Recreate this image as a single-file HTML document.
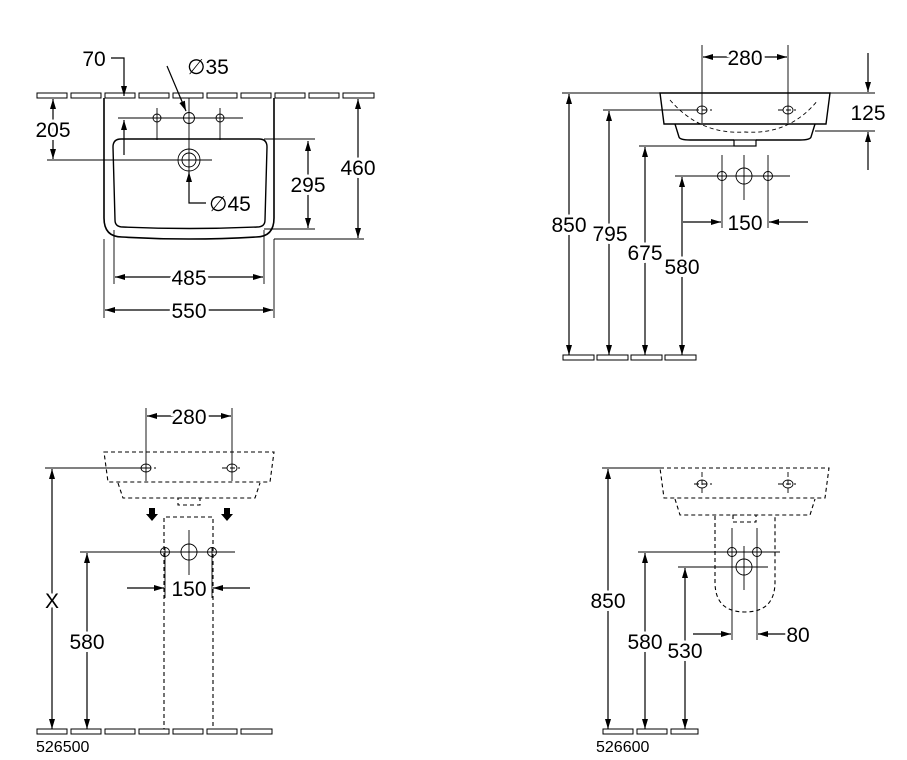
<!DOCTYPE html>
<html><head><meta charset="utf-8"><style>
html,body{margin:0;padding:0;background:#fff}
svg{display:block}
text{font-family:"Liberation Sans",sans-serif;font-size:21px;fill:#000;paint-order:stroke;stroke:#fff;stroke-width:6px;stroke-linejoin:round}
.s{font-size:16px;stroke-width:0}
</style></head><body>
<svg width="907" height="760" viewBox="0 0 907 760" xmlns="http://www.w3.org/2000/svg">
<defs>
<marker id="a" viewBox="0 0 10 6" refX="10" refY="3" markerWidth="10" markerHeight="6" markerUnits="userSpaceOnUse" orient="auto"><path d="M0,0 L10,3 L0,6 Z" fill="#000"/></marker>
</defs>
<g fill="none" stroke="#000" stroke-width="1.2">
<g fill="#fff" stroke-width="1">
<rect x="37" y="93" width="30" height="5"/><rect x="71" y="93" width="30" height="5"/><rect x="105" y="93" width="30" height="5"/><rect x="139" y="93" width="30" height="5"/><rect x="173" y="93" width="30" height="5"/><rect x="207" y="93" width="30" height="5"/><rect x="241" y="93" width="30" height="5"/><rect x="275" y="93" width="30" height="5"/><rect x="309" y="93" width="30" height="5"/><rect x="343" y="93" width="31" height="5"/>
</g>
<path d="M104,98 L104,218 Q104,237 122,237 Q189,241 256,237 Q274,237 274,218 L274,98" stroke-width="1.6"/>
<path d="M121,139 L259,139 Q267,139 267,147 L265,220 Q265,227 257,227 Q189,230 123,227 Q115,227 115,220 L113,147 Q113,139 121,139 Z" stroke-width="1.4"/>
<g stroke-width="0.9">
<line x1="118" y1="118" x2="243" y2="118"/>
<line x1="157" y1="108" x2="157" y2="140"/><line x1="220" y1="108" x2="220" y2="140"/>
<circle cx="157" cy="118" r="4"/><circle cx="220" cy="118" r="4"/>
<circle cx="189" cy="118" r="5.5"/>
<line x1="189" y1="98" x2="189" y2="172"/>
<circle cx="189" cy="160" r="11"/><circle cx="189" cy="160" r="7"/>
<line x1="47" y1="160" x2="212" y2="160"/>
<line x1="264" y1="139" x2="315" y2="139"/><line x1="264" y1="229" x2="315" y2="229"/>
<line x1="274" y1="239" x2="364" y2="239"/>
<line x1="114" y1="230" x2="114" y2="284"/><line x1="264" y1="230" x2="264" y2="284"/>
<line x1="104" y1="239" x2="104" y2="318"/><line x1="274" y1="239" x2="274" y2="318"/>
</g>
<path d="M111,58 L124,58 L124,96" marker-end="url(#a)"/>
<path d="M124,155 L124,120" marker-end="url(#a)"/>
<line x1="53" y1="128" x2="53" y2="99" marker-end="url(#a)"/><line x1="53" y1="128" x2="53" y2="159" marker-end="url(#a)"/>
<path d="M167,66 L186,111" marker-end="url(#a)"/>
<path d="M206,203 L189,203 L189,172" marker-end="url(#a)"/>
<line x1="308" y1="184" x2="308" y2="141" marker-end="url(#a)"/><line x1="308" y1="184" x2="308" y2="228" marker-end="url(#a)"/>
<line x1="358" y1="168" x2="358" y2="99" marker-end="url(#a)"/><line x1="358" y1="168" x2="358" y2="238" marker-end="url(#a)"/>
<line x1="189" y1="277" x2="115" y2="277" marker-end="url(#a)"/><line x1="189" y1="277" x2="263" y2="277" marker-end="url(#a)"/>
<line x1="189" y1="310" x2="105" y2="310" marker-end="url(#a)"/><line x1="189" y1="310" x2="273" y2="310" marker-end="url(#a)"/>

<line x1="562" y1="93" x2="875" y2="93" stroke-width="0.9"/>
<path d="M660,93 L830,93 L826,124 L664,124 Z" stroke-width="1.4"/>
<path d="M675,124 L679,137 Q680,140 690,140 L734,140 M756,140 L800,140 Q810,140 811,137 L815,124" stroke-width="1.4"/>
<rect x="734" y="140" width="22" height="6" stroke-width="1.2"/>
<path d="M670,100 Q700,135 745,132 Q790,135 818,100" stroke-dasharray="4,3" stroke-width="0.9"/>
<g stroke-width="0.9">
<ellipse cx="702" cy="110" rx="5" ry="4"/><ellipse cx="788" cy="110" rx="5" ry="4"/>
<line x1="694" y1="110" x2="712" y2="110" stroke-dasharray="5,3"/><line x1="778" y1="110" x2="796" y2="110" stroke-dasharray="5,3"/>
<line x1="702" y1="45" x2="702" y2="123"/><line x1="788" y1="45" x2="788" y2="123"/>
<line x1="603" y1="110" x2="695" y2="110"/>
<line x1="639" y1="146" x2="735" y2="146"/>
<line x1="675" y1="176" x2="790" y2="176"/>
<line x1="815" y1="131" x2="875" y2="131"/>
<circle cx="722" cy="176" r="4.5"/><circle cx="768" cy="176" r="4.5"/><circle cx="744" cy="176" r="8"/>
<line x1="722" y1="155" x2="722" y2="228"/><line x1="768" y1="155" x2="768" y2="228"/><line x1="744" y1="155" x2="744" y2="200"/>
</g>
<line x1="745" y1="57" x2="703" y2="57" marker-end="url(#a)"/><line x1="745" y1="57" x2="787" y2="57" marker-end="url(#a)"/>
<line x1="868" y1="53" x2="868" y2="92" marker-end="url(#a)"/><line x1="868" y1="170" x2="868" y2="132" marker-end="url(#a)"/>
<line x1="683" y1="222" x2="721" y2="222" marker-end="url(#a)"/><line x1="808" y1="222" x2="769" y2="222" marker-end="url(#a)"/>
<line x1="569" y1="224" x2="569" y2="94" marker-end="url(#a)"/><line x1="569" y1="224" x2="569" y2="355" marker-end="url(#a)"/>
<line x1="609" y1="233" x2="609" y2="111" marker-end="url(#a)"/><line x1="609" y1="233" x2="609" y2="355" marker-end="url(#a)"/>
<line x1="645" y1="252" x2="645" y2="147" marker-end="url(#a)"/><line x1="645" y1="252" x2="645" y2="355" marker-end="url(#a)"/>
<line x1="682" y1="266" x2="682" y2="177" marker-end="url(#a)"/><line x1="682" y1="266" x2="682" y2="355" marker-end="url(#a)"/>
<g fill="#fff" stroke-width="1">
<rect x="563" y="355" width="31" height="5"/><rect x="597" y="355" width="31" height="5"/><rect x="631" y="355" width="31" height="5"/><rect x="665" y="355" width="31" height="5"/>
</g>

<g stroke-dasharray="4,3" stroke-width="1.1">
<path d="M104,452 L274,452 L270,482 L108,482 Z"/>
<path d="M118,483 L123,498 L255,498 L260,483"/>
<rect x="178" y="498" width="22" height="7"/>
<path d="M164,732 L164,517 L213,517 L213,732"/>
</g>
<g stroke-width="0.9">
<ellipse cx="146" cy="468" rx="5" ry="4"/><ellipse cx="232" cy="468" rx="5" ry="4"/>
<line x1="138" y1="468" x2="156" y2="468" stroke-dasharray="5,3"/><line x1="222" y1="468" x2="240" y2="468" stroke-dasharray="5,3"/>
<line x1="146" y1="408" x2="146" y2="481"/><line x1="232" y1="408" x2="232" y2="481"/>
<line x1="45" y1="468" x2="146" y2="468"/>
<line x1="80" y1="552" x2="235" y2="552"/>
<circle cx="165" cy="552" r="4.5"/><circle cx="212" cy="552" r="4.5"/><circle cx="189" cy="552" r="8"/>
<line x1="189" y1="530" x2="189" y2="575"/>
<line x1="165" y1="548" x2="165" y2="598"/><line x1="212" y1="548" x2="212" y2="598"/>
</g>
<path d="M149,508 L155,508 L155,514 L158,514 L152,521 L146,514 L149,514 Z" fill="#000" stroke="none"/>
<path d="M224,508 L230,508 L230,514 L233,514 L227,521 L221,514 L224,514 Z" fill="#000" stroke="none"/>
<line x1="189" y1="416" x2="147" y2="416" marker-end="url(#a)"/><line x1="189" y1="416" x2="231" y2="416" marker-end="url(#a)"/>
<line x1="127" y1="588" x2="164" y2="588" marker-end="url(#a)"/><line x1="250" y1="588" x2="213" y2="588" marker-end="url(#a)"/>
<line x1="52" y1="600" x2="52" y2="469" marker-end="url(#a)"/><line x1="52" y1="600" x2="52" y2="729" marker-end="url(#a)"/>
<line x1="87" y1="641" x2="87" y2="553" marker-end="url(#a)"/><line x1="87" y1="641" x2="87" y2="729" marker-end="url(#a)"/>
<g fill="#fff" stroke-width="1">
<rect x="37" y="729" width="30" height="5"/><rect x="71" y="729" width="30" height="5"/><rect x="105" y="729" width="30" height="5"/><rect x="139" y="729" width="30" height="5"/><rect x="173" y="729" width="30" height="5"/><rect x="207" y="729" width="30" height="5"/><rect x="241" y="729" width="31" height="5"/>
</g>

<line x1="602" y1="468" x2="660" y2="468" stroke-width="0.9"/>
<g stroke-dasharray="4,3" stroke-width="1.1">
<path d="M660,468 L829,468 L825,498 L664,498 Z"/>
<path d="M675,499 L680,515 L810,515 L815,499"/>
<rect x="733" y="515" width="23" height="7"/>
<path d="M715,516 L715,582 Q715,612 745,612 Q775,612 775,582 L775,516"/>
</g>
<g stroke-width="0.9">
<ellipse cx="702" cy="484" rx="5" ry="4"/><ellipse cx="788" cy="484" rx="5" ry="4"/>
<line x1="694" y1="484" x2="712" y2="484" stroke-dasharray="5,3"/><line x1="778" y1="484" x2="796" y2="484" stroke-dasharray="5,3"/>
<line x1="702" y1="472" x2="702" y2="495" stroke-dasharray="5,3"/><line x1="788" y1="472" x2="788" y2="495" stroke-dasharray="5,3"/>
<line x1="638" y1="552" x2="780" y2="552"/>
<line x1="678" y1="567" x2="768" y2="567"/>
<circle cx="732" cy="552" r="4.5"/><circle cx="757" cy="552" r="4.5"/><circle cx="744" cy="567" r="8"/>
<line x1="744" y1="546" x2="744" y2="590"/>
<line x1="732" y1="528" x2="732" y2="640"/><line x1="757" y1="528" x2="757" y2="640"/>
</g>
<line x1="693" y1="634" x2="731" y2="634" marker-end="url(#a)"/><line x1="790" y1="634" x2="758" y2="634" marker-end="url(#a)"/>
<line x1="608" y1="600" x2="608" y2="469" marker-end="url(#a)"/><line x1="608" y1="600" x2="608" y2="729" marker-end="url(#a)"/>
<line x1="645" y1="641" x2="645" y2="553" marker-end="url(#a)"/><line x1="645" y1="641" x2="645" y2="729" marker-end="url(#a)"/>
<line x1="685" y1="650" x2="685" y2="568" marker-end="url(#a)"/><line x1="685" y1="650" x2="685" y2="729" marker-end="url(#a)"/>
<g fill="#fff" stroke-width="1">
<rect x="603" y="729" width="30" height="5"/><rect x="637" y="729" width="30" height="5"/><rect x="671" y="729" width="27" height="5"/>
</g>
</g>

<g text-anchor="middle">
<text x="94" y="66">70</text>
<text x="208" y="74">∅35</text>
<text x="53" y="137">205</text>
<text x="230" y="211">∅45</text>
<text x="308" y="192">295</text>
<text x="358" y="175">460</text>
<text x="189" y="285">485</text>
<text x="189" y="318">550</text>
<text x="745" y="65">280</text>
<text x="868" y="120">125</text>
<text x="745" y="230">150</text>
<text x="569" y="232">850</text>
<text x="610" y="241">795</text>
<text x="645" y="260">675</text>
<text x="682" y="274">580</text>
<text x="189" y="424">280</text>
<text x="189" y="596">150</text>
<text x="52" y="608">X</text>
<text x="87" y="649">580</text>
<text x="608" y="608">850</text>
<text x="645" y="649">580</text>
<text x="685" y="658">530</text>
<text x="798" y="642">80</text>
</g>
<text class="s" x="36" y="752">526500</text>
<text class="s" x="596" y="752">526600</text>
</svg>
</body></html>
